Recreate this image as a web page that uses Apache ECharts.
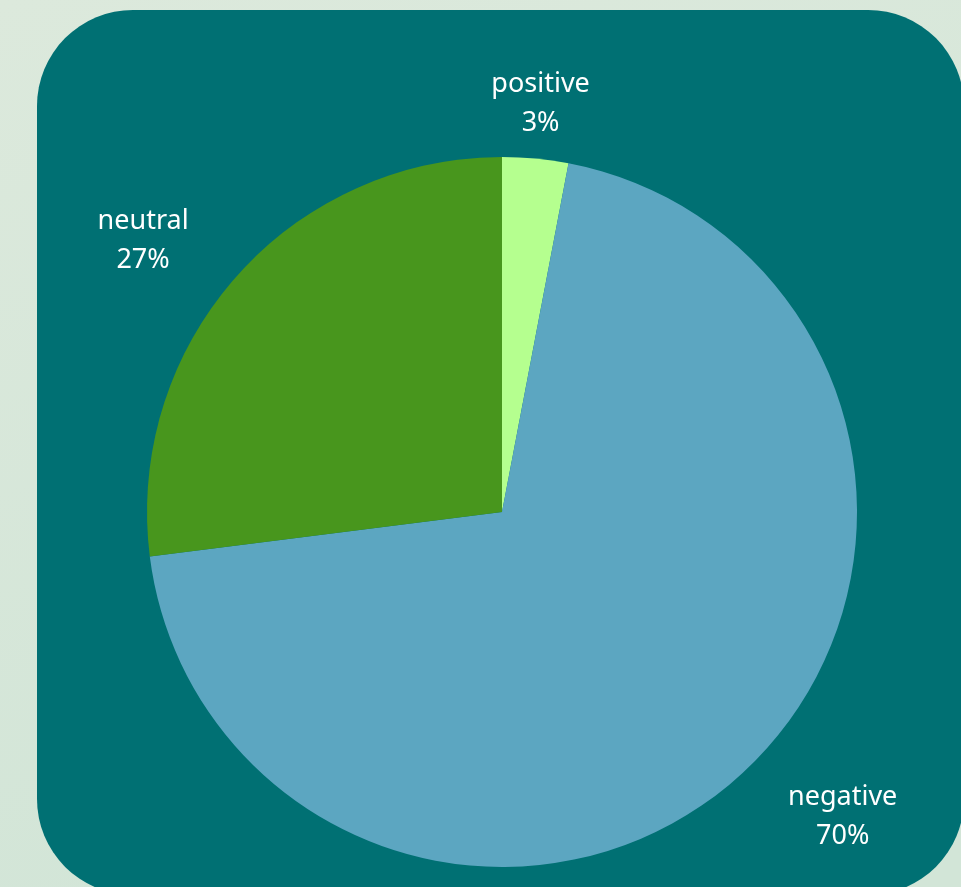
<!DOCTYPE html>
<html>
<head>
<meta charset="utf-8">
<script src="https://cdn.jsdelivr.net/npm/echarts@6/dist/echarts.min.js"></script>
<style>
html,body{margin:0;padding:0;background:#d8e8da;}
#chart{width:961px;height:887px;}
</style>
</head>
<body>
<div id="chart"></div>
<script>
// Data
const categories = ['positive', 'negative', 'neutral'];
const values = [3, 70, 27];
const sliceColors = ['#b5ff8f', '#5ca6c1', '#48961d'];

// Label placement (label box centre, relative to the slice's outer mid-point direction)
const labelPlacement = {
  positive: { dist: 55, angleNudge: 0 },
  neutral: { dist: 95, angleNudge: -4.3 },
  negative: { dist: 102, angleNudge: -5.0 }
};

const center = [502, 512];
const radius = 355;

const total = values.reduce((a, b) => a + b, 0);
const midAngles = [];
let acc = 0;
values.forEach(v => { midAngles.push((acc + v / 2) / total * 360); acc += v; });

const chart = echarts.init(document.getElementById('chart'), null, { renderer: 'canvas' });
chart.setOption({
  backgroundColor: new echarts.graphic.LinearGradient(0, 0, 0.3, 1, [
    { offset: 0, color: '#dce9dc' },
    { offset: 1, color: '#d2e5d7' }
  ]),
  animation: false,
  graphic: [{
    type: 'rect',
    shape: { x: 37, y: 10, width: 927, height: 885, r: 96 },
    style: { fill: '#007073' },
    z: -10
  }],
  series: [{
    type: 'pie',
    center: center,
    radius: [0, radius],
    startAngle: 90,
    clockwise: true,
    avoidLabelOverlap: false,
    data: categories.map((c, i) => ({ name: c, value: values[i], itemStyle: { color: sliceColors[i] } })),
    itemStyle: { borderWidth: 0 },
    label: {
      show: true,
      position: 'outside',
      formatter: '{b}\n{d}%',
      color: '#ffffff',
      fontFamily: 'Noto Sans',
      fontSize: 27,
      lineHeight: 39,
      align: 'center'
    },
    labelLine: { show: false },
    labelLayout: function (params) {
      const i = params.dataIndex;
      const p = labelPlacement[categories[i]];
      const a = (midAngles[i] + p.angleNudge) * Math.PI / 180;
      const r = radius + p.dist;
      return {
        x: center[0] + r * Math.sin(a),
        y: center[1] - r * Math.cos(a),
        align: 'center',
        verticalAlign: 'middle'
      };
    },
    emphasis: { disabled: true }
  }]
});
</script>
</body>
</html>
